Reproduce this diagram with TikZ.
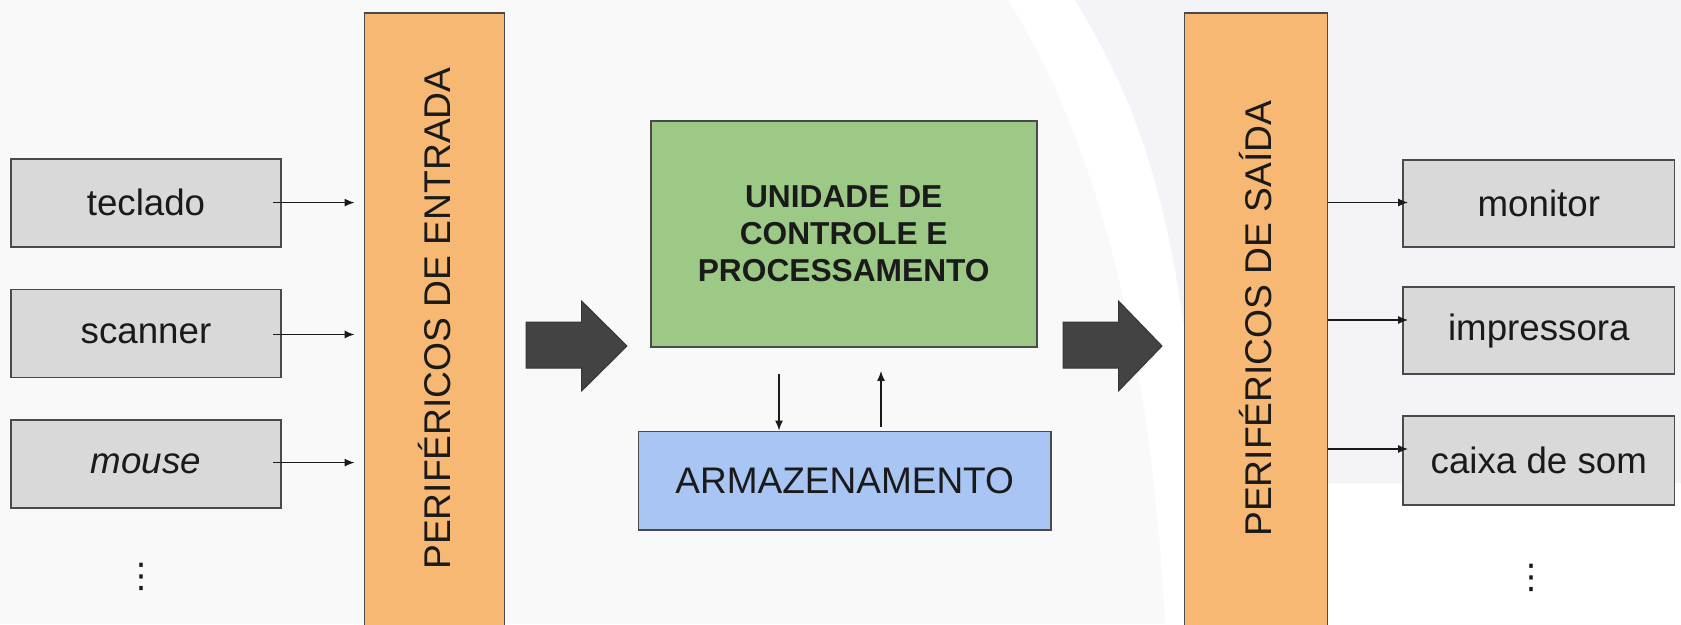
\documentclass[tikz,border=0pt]{standalone}
\usepackage{fontspec}
\setmainfont{Liberation Sans}
\newfontfamily\djv{DejaVu Sans}
\usetikzlibrary{arrows.meta}
\definecolor{greyfill}{HTML}{D9D9D9}
\definecolor{edge}{HTML}{4A4A4A}
\definecolor{orng}{HTML}{F6B872}
\definecolor{grn}{HTML}{9CCA86}
\definecolor{blu}{HTML}{A8C5F3}
\definecolor{dark}{HTML}{434343}
\definecolor{txt}{HTML}{1A1A1A}
\definecolor{beige}{HTML}{F8F9F8}
\definecolor{lav}{HTML}{F3F3F8}
\begin{document}
\begin{tikzpicture}[x=1pt,y=-1pt,
  devbox/.style={draw=edge, line width=1.8pt, fill=greyfill, inner sep=0pt,
    minimum width=270.5pt, minimum height=88pt, text=txt,
    font=\fontsize{36.7}{44}\selectfont},
  perbox/.style={draw=edge, line width=1.8pt, fill=orng, inner sep=0pt,
    minimum width=140pt, minimum height=630pt},
  pertext/.style={rotate=90, text=txt, inner sep=0pt,
    font=\fontsize{37.2}{44}\selectfont},
  thin/.style={draw=txt, line width=1.5pt, -{Latex[length=10pt,width=8pt]}},
  bigarrow/.style={fill=dark, draw=dark!80!black, line width=1pt},
  dots/.style={text=txt, inner sep=0pt, font=\djv\fontsize{34}{40}\selectfont}
]
\clip (0,0) rectangle (1681,624);
% background
\fill[beige] (0,0) rectangle (1681,624);
\fill[white] (1008,0) .. controls (1090,130) and (1150,330) .. (1165,624)
  -- (1681,624) -- (1681,0) -- cycle;
\fill[lav] (1075,0) .. controls (1135,100) and (1180,200) .. (1200,483)
  -- (1681,483) -- (1681,0) -- cycle;

% input devices
\node[devbox] (teclado) at (146,202.6) {teclado};
\node[devbox] (scanner) at (146,333.5) {scanner};
\node[devbox] (mouse) at (146,464) {\itshape mouse};
\node[dots] (dotsL) at (141.5,577.3) {⋮};

% input peripherals
\node[perbox] (inL) at (434.5,327.9) {};
\node[pertext] (inLt) at (434.5,318.6) {PERIFÉRICOS DE ENTRADA};

% CPU and storage
\node[draw=edge, line width=1.8pt, fill=grn, inner sep=0pt,
  minimum width=386pt, minimum height=226pt, align=center, text=txt,
  font=\bfseries\fontsize{31.7}{37}\selectfont] (cpu) at (843.7,234)
  {UNIDADE DE\\CONTROLE E\\PROCESSAMENTO};
\node[draw=edge, line width=1.8pt, fill=blu, inner sep=0pt,
  minimum width=412.5pt, minimum height=98.5pt, text=txt,
  font=\fontsize{37}{44}\selectfont] (arm) at (844.7,480.7) {ARMAZENAMENTO};

% output peripherals
\node[perbox, minimum width=143pt] (outR) at (1256,327.9) {};
\node[pertext] (outRt) at (1256,318.6) {PERIFÉRICOS DE SAÍDA};

% output devices
\node[devbox, minimum width=271.5pt, minimum height=87pt] (monitor) at (1538.8,203.5) {monitor};
\node[devbox, minimum width=271.5pt, minimum height=86.7pt] (impressora) at (1538.8,330.6) {impressora};
\node[devbox, minimum width=271.5pt, minimum height=88.6pt] (caixa) at (1538.8,460.3) {caixa de som};
\node[dots] (dotsR) at (1531,577.5) {⋮};

% thin arrows in
\draw[thin, shorten <=-9pt, shorten >=9pt] (teclado.east) -- (teclado.east -| inL.west);
\draw[thin, shorten <=-9pt, shorten >=9pt] ([yshift=-1pt]scanner.east) -- ([yshift=-1pt]scanner.east -| inL.west);
\draw[thin, shorten <=-9pt, shorten >=9pt] ([yshift=1.4pt]mouse.east) -- ([yshift=1.4pt]mouse.east -| inL.west);

% thin arrows out
\draw[thin, shorten >=-6pt] (outR.east |- 0,202.5) -- (monitor.west |- 0,202.5);
\draw[thin, shorten >=-6pt] (outR.east |- 0,320) -- (impressora.west |- 0,320);
\draw[thin, shorten >=-6pt] (outR.east |- 0,449) -- (caixa.west |- 0,449);

% CPU <-> storage
\draw[thin] (cpu.south -| 779,0) ++(0,26) coordinate (d1) -- (arm.north -| 779,0);
\draw[thin, shorten >=23pt] (arm.north -| 881,0) ++(0,-4) coordinate (u1) -- (cpu.south -| 881,0);

% big arrows
\fill[bigarrow] (526,322) -- (581.5,322) -- (581.5,301) -- (627,346)
  -- (581.5,391) -- (581.5,368) -- (526,368) -- cycle;
\fill[bigarrow] (1063,322) -- (1118.5,322) -- (1118.5,301) -- (1162,346)
  -- (1118.5,391) -- (1118.5,368) -- (1063,368) -- cycle;
\end{tikzpicture}
\end{document}
